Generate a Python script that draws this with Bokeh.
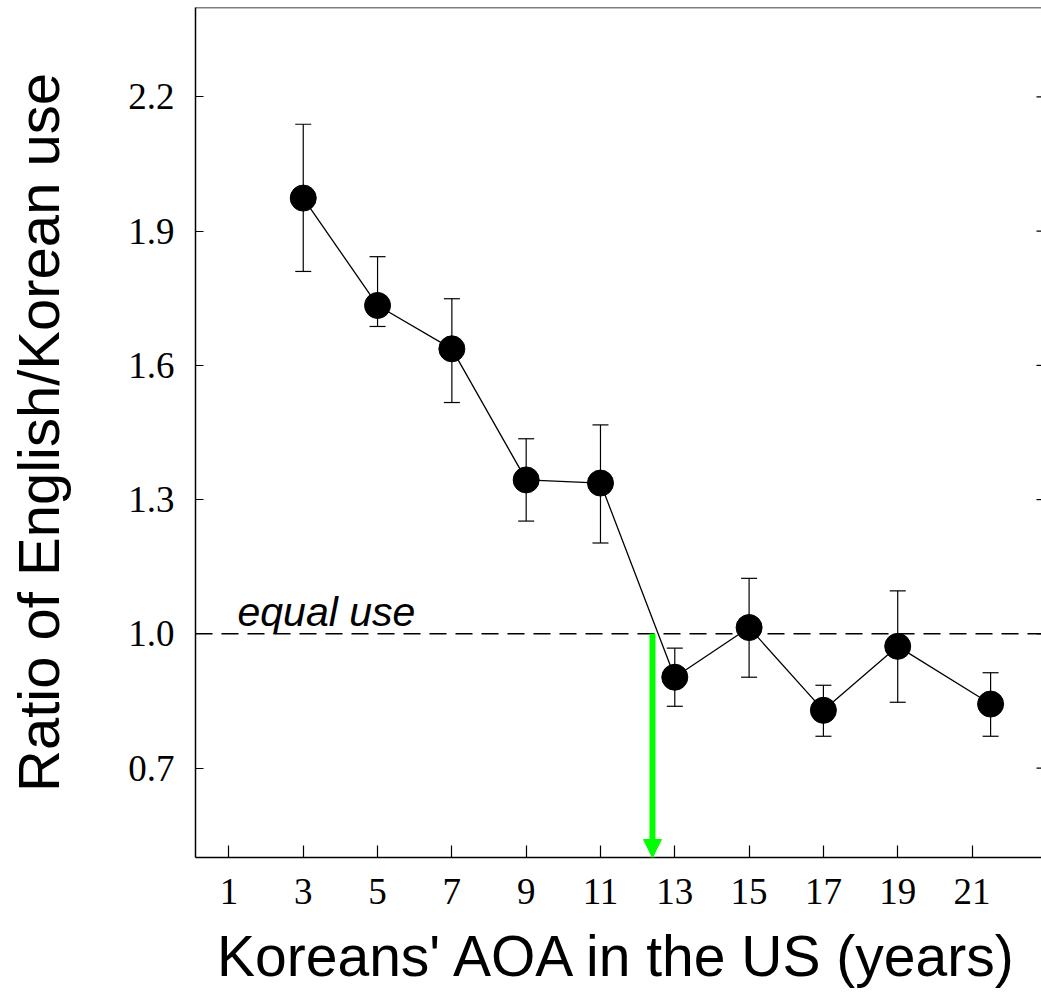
import math
from bokeh.plotting import figure
from bokeh.models import (ColumnDataSource, Whisker, TeeHead, Span, Label, Arrow,
                          NormalHead, FixedTicker, Range1d)
from bokeh.embed import file_html
from bokeh.resources import INLINE

# ---- data ----
aoa = [3, 5, 7, 9, 11, 13, 15, 17, 19, 21.5]
ratio = [1.974, 1.734, 1.637, 1.344, 1.337, 0.903, 1.014, 0.829, 0.972, 0.843]
err_upper = [2.139, 1.843, 1.749, 1.436, 1.467, 0.968, 1.124, 0.885, 1.096, 0.913]
err_lower = [1.810, 1.687, 1.517, 1.252, 1.203, 0.838, 0.903, 0.771, 0.847, 0.771]
x_ticks = [1, 3, 5, 7, 9, 11, 13, 15, 17, 19, 21]
y_ticks = [0.7, 1.0, 1.3, 1.6, 1.9, 2.2]
y_tick_labels = ["0.7", "1.0", "1.3", "1.6", "1.9", "2.2"]
equal_use = 1.0
crossover_aoa = 12.4
x_label = "Koreans' AOA in the US (years)"
y_label = "Ratio of English/Korean use"
note = "equal use"

x_start, x_end = 0.1, 22.87
y_start, y_end = 0.5, 2.4

GREEN = "#00ff00"

src = ColumnDataSource(dict(x=aoa, y=ratio, upper=err_upper, lower=err_lower))

p = figure(width=1041, height=1002, output_backend="svg", toolbar_location=None,
           x_range=Range1d(x_start, x_end), y_range=Range1d(y_start, y_end),
           min_border_left=195, min_border_right=0, min_border_top=7,
           min_border_bottom=145)
p.outline_line_color = None
p.xgrid.visible = False
p.ygrid.visible = False
p.background_fill_color = "white"
p.border_fill_color = "white"

# axes
xa = p.xaxis[0]
xa.ticker = FixedTicker(ticks=x_ticks)
xa.major_tick_in = 12
xa.major_tick_out = 0
xa.minor_tick_line_color = None
xa.axis_line_width = 1.5
xa.axis_line_color = "black"
xa.major_tick_line_width = 1.2
xa.major_tick_line_color = "black"
xa.major_label_text_font = "Liberation Serif"
xa.major_label_text_font_size = "37px"
xa.major_label_text_color = "black"
xa.major_label_standoff = 21
xa.axis_label = x_label
xa.axis_label_text_font = "Liberation Sans"
xa.axis_label_text_font_size = "57px"
xa.axis_label_text_font_style = "normal"
xa.axis_label_text_color = "black"
xa.axis_label_standoff = 17

ya = p.yaxis[0]
ya.ticker = FixedTicker(ticks=y_ticks)
ya.major_label_overrides = {t: l for t, l in zip(y_ticks, y_tick_labels)}
ya.major_tick_in = 8
ya.major_tick_out = 0
ya.minor_tick_line_color = None
ya.axis_line_width = 1.5
ya.axis_line_color = "black"
ya.major_tick_line_width = 1.2
ya.major_tick_line_color = "black"
ya.major_label_text_font = "Liberation Serif"
ya.major_label_text_font_size = "37px"
ya.major_label_text_color = "black"
ya.major_label_standoff = 21
ya.axis_label = y_label
ya.axis_label_text_font = "Liberation Sans"
ya.axis_label_text_font_size = "58px"
ya.axis_label_text_font_style = "normal"
ya.axis_label_text_color = "black"
ya.axis_label_standoff = 54

# inward ticks on the right edge
p.ray(x=[x_end] * len(y_ticks), y=y_ticks, length=5, length_units="screen",
      angle=math.pi, line_color="black", line_width=1.2)

# top border
p.add_layout(Span(location=y_end, dimension="width", line_color="black", line_width=1.5))

# equal-use dashed line
p.add_layout(Span(location=equal_use, dimension="width", line_color="black",
                  line_width=1.5, line_dash="17 9"))
p.add_layout(Label(x=1.23, y=1.049, text=note, text_font="Liberation Sans",
                   text_font_size="41px", text_font_style="italic",
                   text_baseline="alphabetic", text_color="black"))

# error bars
p.add_layout(Whisker(source=src, base="x", upper="upper", lower="lower",
                     line_color="black", line_width=1.2,
                     upper_head=TeeHead(size=16, line_color="black", line_width=1.2),
                     lower_head=TeeHead(size=16, line_color="black", line_width=1.2)))

# line + markers
p.line("x", "y", source=src, line_color="black", line_width=1.3)
p.scatter("x", "y", source=src, size=26, fill_color="black", line_color="black")

# green arrow
p.add_layout(Arrow(end=NormalHead(size=18, fill_color=GREEN, line_color=GREEN),
                   x_start=crossover_aoa, y_start=equal_use,
                   x_end=crossover_aoa, y_end=y_start,
                   line_color=GREEN, line_width=6))

open("out.html", "w").write(file_html(p, INLINE))
